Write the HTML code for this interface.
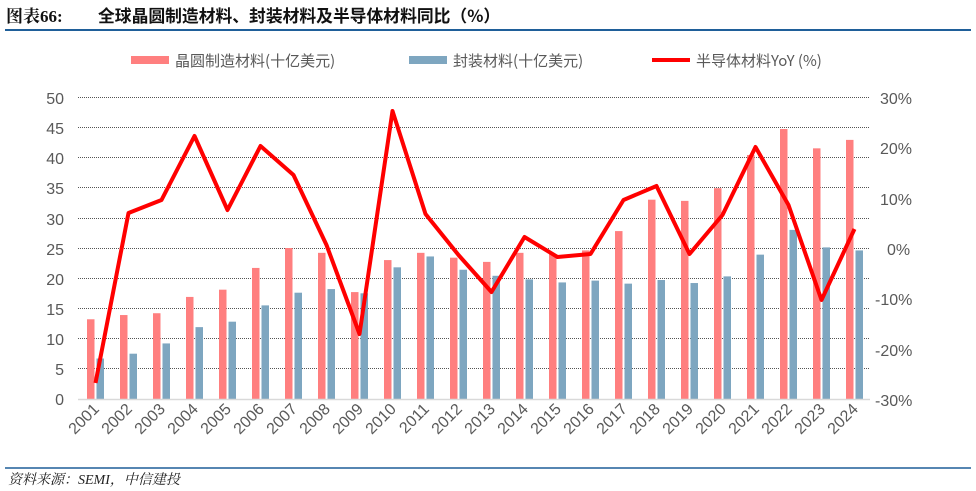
<!DOCTYPE html>
<html><head><meta charset="utf-8"><style>
body{margin:0;background:#fff;width:976px;height:491px;overflow:hidden}
svg{display:block;font-family:"Liberation Sans","Noto Sans CJK SC",sans-serif}
</style></head><body>
<svg id="s" width="976" height="491" viewBox="0 0 976 491">
<text x="6" y="22" font-size="17" font-weight="bold" fill="#111" font-family="'Liberation Serif','Noto Serif CJK SC',serif">图表66:</text>
<text x="98" y="22" font-size="16.8" font-weight="bold" fill="#111" font-family="'Noto Sans CJK SC',sans-serif">全球晶圆制造材料、封装材料及半导体材料同比（%）</text>
<line x1="5" y1="30" x2="971" y2="30" stroke="#1f5f99" stroke-width="2"/>
<rect x="131" y="56" width="38" height="8" fill="#ff7f7f"/>
<text x="175" y="66" font-size="15" fill="#595959" font-family="'Noto Sans CJK SC',sans-serif">晶圆制造材料(十亿美元)</text>
<rect x="409" y="56" width="38" height="8" fill="#7ea6c0"/>
<text x="453" y="66" font-size="15" fill="#595959" font-family="'Noto Sans CJK SC',sans-serif">封装材料(十亿美元)</text>
<line x1="652" y1="60" x2="690" y2="60" stroke="#f00" stroke-width="4"/>
<text x="696" y="66" font-size="15" fill="#595959" font-family="'Noto Sans CJK SC',sans-serif">半导体材料YoY (%)</text>
<g stroke="#555" stroke-dasharray="1,1" stroke-width="1">
<line x1="78" x2="870" y1="97.5" y2="97.5"/><line x1="78" x2="870" y1="127.5" y2="127.5"/><line x1="78" x2="870" y1="157.5" y2="157.5"/><line x1="78" x2="870" y1="187.5" y2="187.5"/><line x1="78" x2="870" y1="218.5" y2="218.5"/><line x1="78" x2="870" y1="248.5" y2="248.5"/><line x1="78" x2="870" y1="278.5" y2="278.5"/><line x1="78" x2="870" y1="308.5" y2="308.5"/><line x1="78" x2="870" y1="338.5" y2="338.5"/><line x1="78" x2="870" y1="368.5" y2="368.5"/>
</g>
<g font-size="16" fill="#595959" text-anchor="end">
<text x="64" y="104">50</text><text x="64" y="134">45</text><text x="64" y="164">40</text><text x="64" y="194">35</text><text x="64" y="225">30</text><text x="64" y="255">25</text><text x="64" y="285">20</text><text x="64" y="315">15</text><text x="64" y="345">10</text><text x="64" y="375">5</text><text x="64" y="405">0</text>
</g>
<g font-size="16" fill="#595959">
<text x="880" y="104">30%</text><text x="880" y="154">20%</text><text x="880" y="205">10%</text><text x="887" y="255">0%</text><text x="875" y="305">-10%</text><text x="875" y="356">-20%</text><text x="875" y="406">-30%</text>
</g>
<g id="bars"></g>
<line x1="78" y1="399.5" x2="870" y2="399.5" stroke="#d9d9d9" stroke-width="1.5"/>
<polyline id="ln" fill="none" stroke="#f00" stroke-width="4" stroke-linejoin="round"/>
<g font-size="16" fill="#595959" text-anchor="end">
<text transform="translate(100,410) rotate(-45)">2001</text><text transform="translate(133,410) rotate(-45)">2002</text><text transform="translate(166,410) rotate(-45)">2003</text><text transform="translate(199,410) rotate(-45)">2004</text><text transform="translate(232,410) rotate(-45)">2005</text><text transform="translate(265,410) rotate(-45)">2006</text><text transform="translate(298,410) rotate(-45)">2007</text><text transform="translate(331,410) rotate(-45)">2008</text><text transform="translate(364,410) rotate(-45)">2009</text><text transform="translate(397,410) rotate(-45)">2010</text><text transform="translate(430,410) rotate(-45)">2011</text><text transform="translate(463,410) rotate(-45)">2012</text><text transform="translate(496,410) rotate(-45)">2013</text><text transform="translate(529,410) rotate(-45)">2014</text><text transform="translate(562,410) rotate(-45)">2015</text><text transform="translate(595,410) rotate(-45)">2016</text><text transform="translate(628,410) rotate(-45)">2017</text><text transform="translate(661,410) rotate(-45)">2018</text><text transform="translate(694,410) rotate(-45)">2019</text><text transform="translate(727,410) rotate(-45)">2020</text><text transform="translate(760,410) rotate(-45)">2021</text><text transform="translate(793,410) rotate(-45)">2022</text><text transform="translate(826,410) rotate(-45)">2023</text><text transform="translate(859,410) rotate(-45)">2024</text>
</g>
<line x1="5" y1="468" x2="971" y2="468" stroke="#1f5f99" stroke-width="1.5"/>
<text x="8" y="484" font-size="14" font-style="italic" fill="#222" font-family="'Liberation Serif','Noto Serif CJK SC',serif">资料来源：SEMI，中信建投</text>
</svg>
<script>
var p=[13.2,13.9,14.2,16.9,18.1,21.7,25,24.2,17.7,23,24.2,23.4,22.7,24.2,24,24.6,27.8,33,32.8,34.9,40.4,44.7,41.5,42.9];
var b=[6.7,7.5,9.2,11.9,12.8,15.5,17.6,18.2,17.5,21.8,23.6,21.4,20.4,19.8,19.3,19.6,19.1,19.7,19.2,20.3,23.9,28,25.1,24.6];
var l=[383,213,200,136,210,146,175,245,334,111,214,255,292,237,257,254,200,186,254,215,147,205,300,229];
var g=document.getElementById('bars'),s='',pts=[];
for(var i=0;i<24;i++){var x=87+33*i;
s+='<rect x="'+x+'" y="'+(399-p[i]*6.04)+'" width="7.5" height="'+(p[i]*6.04)+'" fill="#ff7f7f"/>';
s+='<rect x="'+(x+9.5)+'" y="'+(399-b[i]*6.04)+'" width="7.5" height="'+(b[i]*6.04)+'" fill="#7ea6c0"/>';
pts.push((x+8.5)+','+l[i]);}
g.innerHTML=s;document.getElementById('ln').setAttribute('points',pts.join(' '));
</script>
</body></html>
